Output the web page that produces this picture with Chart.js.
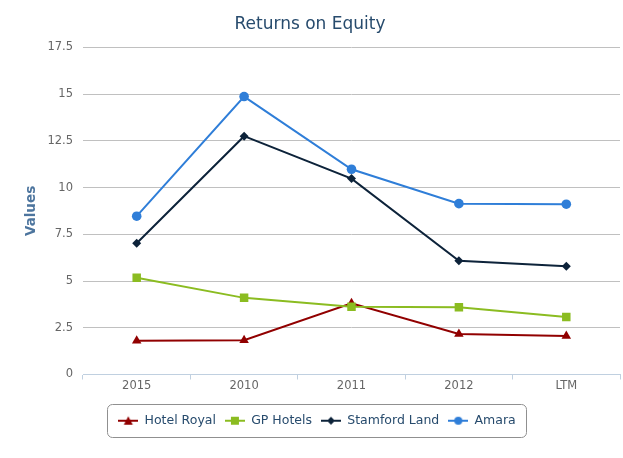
<!DOCTYPE html>
<html>
<head>
<meta charset="utf-8">
<title>Returns on Equity</title>
<script src="https://cdn.jsdelivr.net/npm/chart.js@4.4.0/dist/chart.umd.min.js"></script>
<style>
  body { margin: 0; background: #fff; }
  #wrap { position: relative; width: 623px; height: 458px; }
</style>
</head>
<body>
<div id="wrap"><canvas id="roeChart" width="623" height="458"></canvas></div>
<script>
// chart data
const years = ['2015', '2010', '2011', '2012', 'LTM'];
const hotelRoyal = [1.81, 1.83, 3.81, 2.17, 2.06];
const gpHotels = [5.18, 4.10, 3.63, 3.60, 3.08];
const stamfordLand = [7.02, 12.75, 10.48, 6.08, 5.79];
const amara = [8.47, 14.87, 10.98, 9.14, 9.11];
const seriesNames = ['Hotel Royal', 'GP Hotels', 'Stamford Land', 'Amara'];

const FONT = '"DejaVu Sans", Verdana, sans-serif';
const colors = ['#910000', '#8bbc21', '#0d233a', '#2f7ed8'];
const shapes = ['triangle', 'rect', 'rectRot', 'circle'];
const radii = [5.5, 6, 4.5, 4.8];
const LEGEND_SHIFT = 7; // legend sits a bit right of the canvas centre

// small line + marker image for the legend, like the original
function legendIcon(color, shape) {
    const c = document.createElement('canvas');
    c.width = 20; c.height = 12;
    const g = c.getContext('2d');
    g.strokeStyle = color;
    g.fillStyle = color;
    g.lineWidth = 2;
    g.beginPath();
    g.moveTo(0, 6); g.lineTo(20, 6);
    g.stroke();
    g.beginPath();
    if (shape === 'triangle') {
        g.moveTo(10, 1.5); g.lineTo(14.5, 10); g.lineTo(5.5, 10);
    } else if (shape === 'rect') {
        g.rect(6, 2, 8, 8);
    } else if (shape === 'rectRot') {
        g.moveTo(10, 2); g.lineTo(14, 6); g.lineTo(10, 10); g.lineTo(6, 6);
    } else {
        g.arc(10, 6, 4, 0, Math.PI * 2);
    }
    g.closePath();
    g.fill();
    return c;
}

const allValues = [hotelRoyal, gpHotels, stamfordLand, amara];
const datasets = allValues.map((vals, i) => ({
    label: seriesNames[i],
    data: vals,
    borderColor: colors[i],
    backgroundColor: colors[i],
    borderWidth: 2,
    pointStyle: shapes[i],
    pointRadius: radii[i],
    pointHoverRadius: radii[i],
    pointBorderWidth: 0,
    tension: 0,
    fill: false,
    order: 4 - i
}));

// nudge legend and draw rounded border around its items
const legendBox = {
    id: 'legendBox',
    afterLayout(chart) {
        const lg = chart.legend;
        lg.left += LEGEND_SHIFT;
        lg.right += LEGEND_SHIFT;
        (lg.legendHitBoxes || []).forEach(h => { h.left += LEGEND_SHIFT; });
    },
    afterDraw(chart) {
        const boxes = chart.legend.legendHitBoxes;
        if (!boxes || !boxes.length) return;
        let l = Infinity, r = -Infinity, t = Infinity, b = -Infinity;
        boxes.forEach(h => {
            l = Math.min(l, h.left); r = Math.max(r, h.left + h.width);
            t = Math.min(t, h.top); b = Math.max(b, h.top + h.height);
        });
        const ctx = chart.ctx;
        const cy = (t + b) / 2;
        const x = Math.round(l - 11) + 0.5, y = Math.round(cy - 16.5) + 0.5;
        const w = Math.round(r - l + 22), h = 33;
        ctx.save();
        ctx.strokeStyle = '#909090';
        ctx.lineWidth = 1;
        ctx.beginPath();
        ctx.roundRect(x, y, w, h, 5);
        ctx.stroke();
        ctx.restore();
    }
};

const ctx = document.getElementById('roeChart').getContext('2d');
const roeChart = new Chart(ctx, {
    type: 'line',
    data: { labels: years, datasets: datasets },
    options: {
        responsive: false,
        animation: false,
        layout: { autoPadding: false, padding: { left: 0, right: 3, top: 0, bottom: 21 } },
        plugins: {
            title: {
                display: true,
                text: 'Returns on Equity',
                color: '#274b6d',
                font: { family: FONT, size: 17, weight: 'normal' },
                padding: { top: 14, bottom: 13 }
            },
            legend: {
                position: 'bottom',
                labels: {
                    usePointStyle: true,
                    pointStyleWidth: 20,
                    padding: 9,
                    color: '#274b6d',
                    font: { family: FONT, size: 12.5 },
                    generateLabels(chart) {
                        return chart.data.datasets.map((ds, i) => ({
                            text: ds.label,
                            fillStyle: ds.borderColor,
                            strokeStyle: ds.borderColor,
                            lineWidth: 0,
                            pointStyle: legendIcon(colors[i], shapes[i]),
                            fontColor: '#274b6d',
                            hidden: false,
                            datasetIndex: i
                        }));
                    }
                }
            },
            tooltip: { enabled: false }
        },
        scales: {
            x: {
                offset: true,
                grid: {
                    offset: true,
                    drawOnChartArea: false,
                    drawTicks: true,
                    tickLength: 5,
                    color: '#C0D0E0'
                },
                border: { color: '#C0D0E0', width: 1 },
                ticks: {
                    color: '#666666',
                    font: { family: FONT, size: 11.5 },
                    padding: 0
                },
                afterFit(scale) {
                    scale.height = 31;
                    scale.paddingLeft = 0;
                    scale.paddingRight = 0;
                }
            },
            y: {
                min: 0,
                max: 17.5,
                ticks: {
                    stepSize: 2.5,
                    color: '#666666',
                    font: { family: FONT, size: 11.5 },
                    padding: 10
                },
                grid: { color: '#C0C0C0', drawTicks: false },
                border: { display: false },
                title: {
                    display: true,
                    text: 'Values',
                    color: '#4d759e',
                    font: { family: FONT, size: 13.5, weight: 'bold' },
                    padding: { top: 23, bottom: 0 }
                },
                afterFit(scale) { scale.width = 83; }
            }
        }
    },
    plugins: [legendBox]
});
</script>
</body>
</html>
